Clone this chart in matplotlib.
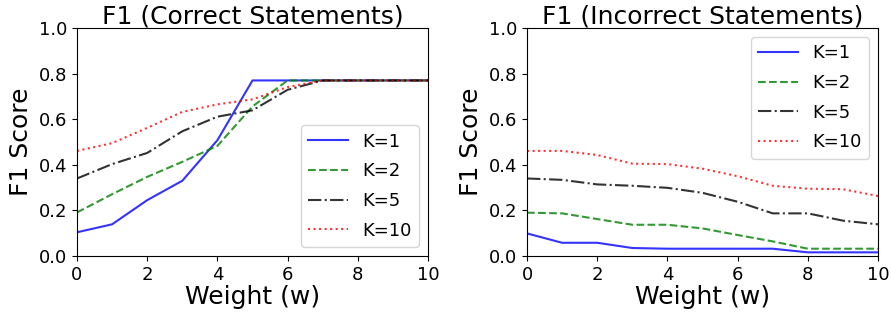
import matplotlib
matplotlib.use('Agg')
import matplotlib.pyplot as plt

# Weight values on the x axis
weights = [0, 1, 2, 3, 4, 5, 6, 7, 8, 9, 10]

# F1 for correct statements
correct_k1 = [0.104, 0.139, 0.245, 0.33, 0.508, 0.77, 0.77, 0.77, 0.77, 0.77, 0.77]
correct_k2 = [0.191, 0.271, 0.347, 0.413, 0.483, 0.656, 0.77, 0.77, 0.77, 0.77, 0.77]
correct_k5 = [0.34, 0.403, 0.452, 0.547, 0.611, 0.639, 0.729, 0.77, 0.77, 0.77, 0.77]
correct_k10 = [0.461, 0.495, 0.562, 0.632, 0.665, 0.687, 0.741, 0.77, 0.77, 0.77, 0.77]

# F1 for incorrect statements
incorrect_k1 = [0.099, 0.058, 0.058, 0.035, 0.032, 0.032, 0.032, 0.032, 0.016, 0.016, 0.016]
incorrect_k2 = [0.19, 0.187, 0.162, 0.137, 0.137, 0.121, 0.092, 0.064, 0.032, 0.032, 0.032]
incorrect_k5 = [0.34, 0.334, 0.314, 0.308, 0.299, 0.277, 0.238, 0.187, 0.187, 0.155, 0.139]
incorrect_k10 = [0.461, 0.461, 0.443, 0.405, 0.403, 0.383, 0.35, 0.308, 0.295, 0.293, 0.263]

labels = ['K=1', 'K=2', 'K=5', 'K=10']
styles = [('blue', '-'), ('green', '--'), ('black', '-.'), ('red', ':')]

fig = plt.figure(figsize=(8.91, 3.2), dpi=100)
ax1 = fig.add_axes([0.0864, 0.2, 0.394, 0.7125])
ax2 = fig.add_axes([0.5915, 0.2, 0.394, 0.7125])

panels = [
    (ax1, [correct_k1, correct_k2, correct_k5, correct_k10], 'F1 (Correct Statements)', 'lower right'),
    (ax2, [incorrect_k1, incorrect_k2, incorrect_k5, incorrect_k10], 'F1 (Incorrect Statements)', 'upper right'),
]

for ax, series, title, loc in panels:
    for vals, lab, (col, ls) in zip(series, labels, styles):
        ax.plot(weights, vals, color=col, linestyle=ls, alpha=0.8, linewidth=1.5, label=lab)
    ax.set_xlim(0, 10)
    ax.set_ylim(0, 1.0)
    ax.set_xticks([0, 2, 4, 6, 8, 10])
    ax.set_yticks([0.0, 0.2, 0.4, 0.6, 0.8, 1.0])
    ax.tick_params(labelsize=13)
    ax.set_title(title, fontsize=18, pad=1)
    ax.set_xlabel('Weight (w)', fontsize=18, labelpad=1)
    ax.set_ylabel('F1 Score', fontsize=18)
    ax.legend(loc=loc, fontsize=13, handlelength=2.2, labelspacing=0.65)

fig.savefig('out.png', dpi=100)
